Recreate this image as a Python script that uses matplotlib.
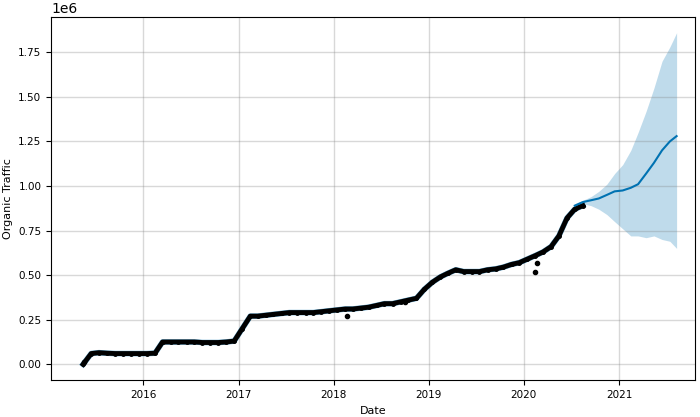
import matplotlib
matplotlib.use("Agg")
import matplotlib.pyplot as plt
import pandas as pd

hist_dates = pd.date_range("2015-05-01", "2020-08-01", freq="MS") + pd.Timedelta(days=14)
hist_vals = [0.0, 0.06, 0.065, 0.062, 0.06, 0.06, 0.06, 0.06, 0.06, 0.062, 0.125,
             0.125, 0.125, 0.125, 0.125, 0.122, 0.122, 0.122, 0.125, 0.13, 0.2,
             0.27, 0.27, 0.275, 0.28, 0.285, 0.29, 0.29, 0.29, 0.29, 0.295, 0.3, 0.305,
             0.31, 0.31, 0.315, 0.32, 0.33, 0.34, 0.34, 0.35, 0.36, 0.37, 0.42, 0.46,
             0.49, 0.51, 0.53, 0.52, 0.52, 0.52, 0.53, 0.535, 0.545, 0.56, 0.57, 0.59,
             0.61, 0.63, 0.66, 0.72, 0.82, 0.87, 0.89]
out_dates = pd.to_datetime(["2018-02-20", "2020-02-15", "2020-02-20", "2015-05-20", "2018-10-01"])
out_vals = [0.27, 0.52, 0.57, 0.01, 0.35]
fc_dates = pd.to_datetime(["2020-07-15", "2020-08-15", "2020-09-15", "2020-10-15", "2020-11-15",
                           "2020-12-15", "2021-01-15", "2021-02-15", "2021-03-15", "2021-04-15",
                           "2021-05-15", "2021-06-15", "2021-07-15", "2021-08-10"])
fc_yhat = [0.89, 0.91, 0.92, 0.93, 0.95, 0.97, 0.975, 0.99, 1.01, 1.07, 1.13, 1.2, 1.25, 1.28]
fc_upper = [0.9, 0.92, 0.94, 0.97, 1.01, 1.07, 1.12, 1.2, 1.3, 1.42, 1.55, 1.7, 1.78, 1.86]
fc_lower = [0.88, 0.9, 0.89, 0.87, 0.84, 0.8, 0.76, 0.72, 0.72, 0.71, 0.72, 0.7, 0.69, 0.65]

fig, ax = plt.subplots(figsize=(7, 4.17), dpi=100)
fig.subplots_adjust(left=0.073, right=0.993, top=0.96, bottom=0.088)
ax.fill_between(fc_dates, [v * 1e6 for v in fc_lower], [v * 1e6 for v in fc_upper],
                color="#0072B2", alpha=0.25, lw=0)
ax.plot(hist_dates, [v * 1e6 for v in hist_vals], color="#0072B2", lw=4, alpha=0.6)
ax.plot(hist_dates, [v * 1e6 for v in hist_vals], color="black", lw=3.5)
ax.plot(hist_dates, [v * 1e6 for v in hist_vals], "k.", ms=5)
ax.plot(out_dates, [v * 1e6 for v in out_vals], "k.", ms=6)
ax.plot(fc_dates, [v * 1e6 for v in fc_yhat], color="#0072B2", lw=1.5)
ax.grid(True, color="gray", lw=1, alpha=0.3)
ax.set_xlabel("Date", fontsize=8)
ax.set_ylabel("Organic Traffic", fontsize=8)
ax.tick_params(labelsize=7.5)
ax.set_ylim(-0.09e6, 1.95e6)
ax.set_xlim(pd.Timestamp("2015-01-12"), pd.Timestamp("2021-10-20"))
fig.savefig("out.png")
